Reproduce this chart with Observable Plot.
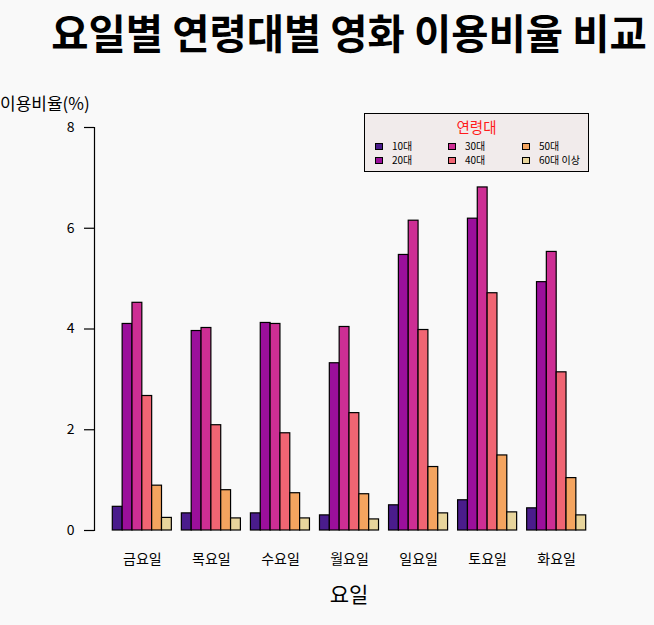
<!DOCTYPE html>
<html>
<head>
<meta charset="utf-8">
<script src="https://cdn.jsdelivr.net/npm/d3@7"></script>
<script src="https://cdn.jsdelivr.net/npm/@observablehq/plot@0.6"></script>
<style>
  html, body { margin: 0; padding: 0; background: #F9F9F9; }
  #wrap { position: relative; width: 654px; height: 625px; background: #F9F9F9; font-family: "Noto Sans CJK KR", "Noto Sans", sans-serif; overflow: hidden; }
  #wrap svg { position: absolute; left: 0; top: 0; }
  .abs { position: absolute; white-space: nowrap; }
  #title { left: 0; width: 698px; top: 10px; text-align: center; font-size: 40.5px; font-weight: bold; line-height: 44px; color: #000; }
  #ylab { left: 0; top: 91px; font-size: 17px; line-height: 24px; color: #000; }
  #xlab { left: 0; width: 698px; top: 579px; text-align: center; font-size: 21px; line-height: 28px; color: #000; }
  #legend { left: 364px; top: 113px; width: 223px; height: 57px; border: 1px solid #000; background: #F1EBEB; }
  #legend .lt { position: absolute; left: 0; width: 223px; top: 3px; text-align: center; color: #FF1A1A; font-size: 14.5px; line-height: 20px; }
  #legend .sw { position: absolute; width: 6px; height: 5px; border: 1px solid #000; }
  #legend .tx { position: absolute; font-size: 10px; line-height: 14px; color: #000; white-space: nowrap; }
</style>
</head>
<body>
<div id="wrap">
  <div id="title" class="abs">요일별 연령대별 영화 이용비율 비교</div>
  <div id="ylab" class="abs">이용비율(%)</div>
  <div id="xlab" class="abs">요일</div>
</div>
<script>
// ---- data ----
const days = ["금요일", "목요일", "수요일", "월요일", "일요일", "토요일", "화요일"];
const ages = ["10대", "20대", "30대", "40대", "50대", "60대 이상"];
const ageColors = ["#4A1C8C", "#9B0F9B", "#CD2E94", "#F06573", "#F4A45F", "#E8D59C"];
const v10 = [0.47, 0.34, 0.34, 0.30, 0.50, 0.60, 0.44];
const v20 = [4.10, 3.96, 4.12, 3.32, 5.47, 6.19, 4.93];
const v30 = [4.52, 4.02, 4.10, 4.04, 6.15, 6.81, 5.53];
const v40 = [2.67, 2.09, 1.93, 2.33, 3.98, 4.71, 3.14];
const v50 = [0.89, 0.80, 0.74, 0.72, 1.26, 1.49, 1.04];
const v60 = [0.25, 0.24, 0.24, 0.22, 0.34, 0.36, 0.30];
const yTicks = [0, 2, 4, 6, 8];
const legendTitle = "연령대";

const series = [v10, v20, v30, v40, v50, v60];
const rows = [];
days.forEach((d, i) => ages.forEach((a, j) => rows.push({day: d, age: a, value: series[j][i]})));

const W = 654, H = 625;
const common = {
  width: W, height: H,
  marginTop: 127, marginBottom: 95, marginLeft: 94, marginRight: 50,
  style: {background: "transparent", fontFamily: "'Noto Sans CJK KR', 'Noto Sans', sans-serif", fontSize: "14px", color: "#000"}
};

const bars = Plot.plot({
  ...common,
  fx: {domain: days, paddingInner: 0.145, paddingOuter: 0.265, round: false, label: null, tickSize: 0, tickPadding: 24, fontSize: 14},
  x: {domain: ages, padding: 0, round: false, axis: null},
  y: {domain: [0, 8], axis: null},
  color: {domain: ages, range: ageColors},
  marks: [
    Plot.barY(rows, {fx: "day", x: "age", y: "value", fill: "age", stroke: "#000", strokeWidth: 1.2, inset: 0})
  ]
});

const axis = Plot.plot({
  ...common,
  y: {domain: [0, 8]},
  marks: [
    Plot.frame({anchor: "left", stroke: "#000", strokeWidth: 1.2}),
    Plot.axisY({ticks: yTicks, tickSize: 10, tickPadding: 10, label: null, fontSize: 14, stroke: "#000", strokeWidth: 1.2})
  ]
});

const wrap = document.getElementById("wrap");
wrap.appendChild(bars);
wrap.appendChild(axis);

// legend
const lg = document.createElement("div");
lg.id = "legend"; lg.className = "abs";
const lt = document.createElement("div"); lt.className = "lt"; lt.textContent = legendTitle; lg.appendChild(lt);
const colSw = [10, 83, 157], colTx = [27, 100, 174], rowTop = [29, 43];
ages.forEach((a, k) => {
  const c = Math.floor(k / 2), r = k % 2;
  const sw = document.createElement("div"); sw.className = "sw";
  sw.style.left = colSw[c] + "px"; sw.style.top = rowTop[r] + "px"; sw.style.background = ageColors[k];
  lg.appendChild(sw);
  const tx = document.createElement("div"); tx.className = "tx"; tx.textContent = a;
  tx.style.left = colTx[c] + "px"; tx.style.top = (rowTop[r] - 4) + "px";
  lg.appendChild(tx);
});
wrap.appendChild(lg);
</script>
</body>
</html>
